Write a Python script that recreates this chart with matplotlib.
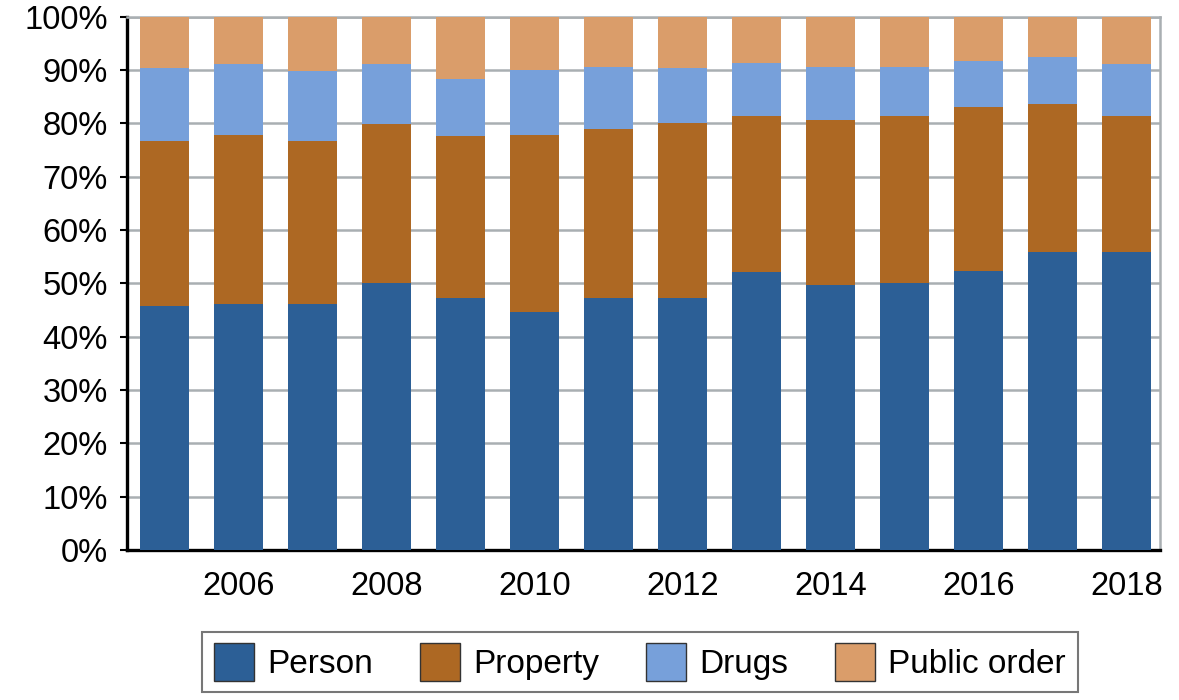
import matplotlib
matplotlib.use("Agg")
import matplotlib.pyplot as plt
import numpy as np

# shares of offences by year (percent)
years = [2005, 2006, 2007, 2008, 2009, 2010, 2011, 2012, 2013, 2014, 2015, 2016, 2017, 2018]
person = [45.8, 46.1, 46.1, 50.0, 47.3, 44.6, 47.3, 47.3, 52.1, 49.7, 50.0, 52.3, 55.8, 55.8]
property_ = [30.8, 31.7, 30.5, 29.9, 30.4, 33.2, 31.6, 32.8, 29.3, 30.9, 31.4, 30.8, 27.8, 25.6]
drugs = [13.7, 13.4, 13.3, 11.3, 10.7, 12.2, 11.7, 10.3, 10.0, 10.0, 9.2, 8.6, 8.8, 9.8]
public_order = [9.7, 8.8, 10.1, 8.8, 11.6, 10.0, 9.4, 9.6, 8.6, 9.4, 9.4, 8.3, 7.6, 8.8]

labels = ["Person", "Property", "Drugs", "Public order"]
colors = ["#2C5F96", "#AD6823", "#77A0DA", "#DA9D6A"]
year_ticks = [2006, 2008, 2010, 2012, 2014, 2016, 2018]

plt.rcParams['font.family'] = ['Liberation Sans', 'DejaVu Sans']

fig = plt.figure(figsize=(11.79, 7.0), dpi=100)
ax = fig.add_axes([0.1077, 0.2143, 0.8762, 0.7619])

series = [person, property_, drugs, public_order]
bottom = np.zeros(len(years))
handles = []
for vals, lab, col in zip(series, labels, colors):
    b = ax.bar(years, vals, width=0.66, bottom=bottom, color=col, label=lab, zorder=3)
    handles.append(b)
    bottom += np.array(vals)

ax.set_ylim(0, 100)
ax.set_xlim(years[0] - 0.51, years[-1] + 0.45)
ax.set_yticks(range(0, 101, 10))
ax.set_yticklabels([f"{v}%" for v in range(0, 101, 10)])
ax.set_xticks(year_ticks)
ax.set_xticklabels([str(y) for y in year_ticks])

ax.yaxis.grid(True, color="#A9AFB2", linewidth=1.8, zorder=0)
ax.set_axisbelow(True)

for s in ["left", "bottom"]:
    ax.spines[s].set_color("black")
    ax.spines[s].set_linewidth(2.4)
for s in ["top", "right"]:
    ax.spines[s].set_color("#A9AFB2")
    ax.spines[s].set_linewidth(1.8)

ax.tick_params(axis="y", length=5, width=1.5, pad=9, labelsize=23.5)
ax.tick_params(axis="x", length=0, pad=15, labelsize=23.5)

leg = fig.legend(handles=handles, labels=labels, loc="center",
                 bbox_to_anchor=(640 / 1179, 1 - 662 / 700), ncol=4,
                 fontsize=24, frameon=True, fancybox=False,
                 handlelength=1.2, handleheight=1.35, handletextpad=0.4,
                 columnspacing=1.4, borderpad=0.35, borderaxespad=0)
leg.get_frame().set_edgecolor("#555555")
leg.get_frame().set_linewidth(1.5)
for p in leg.get_patches():
    p.set_edgecolor("#333333")
    p.set_linewidth(1.0)

fig.savefig("out.png", dpi=100)
